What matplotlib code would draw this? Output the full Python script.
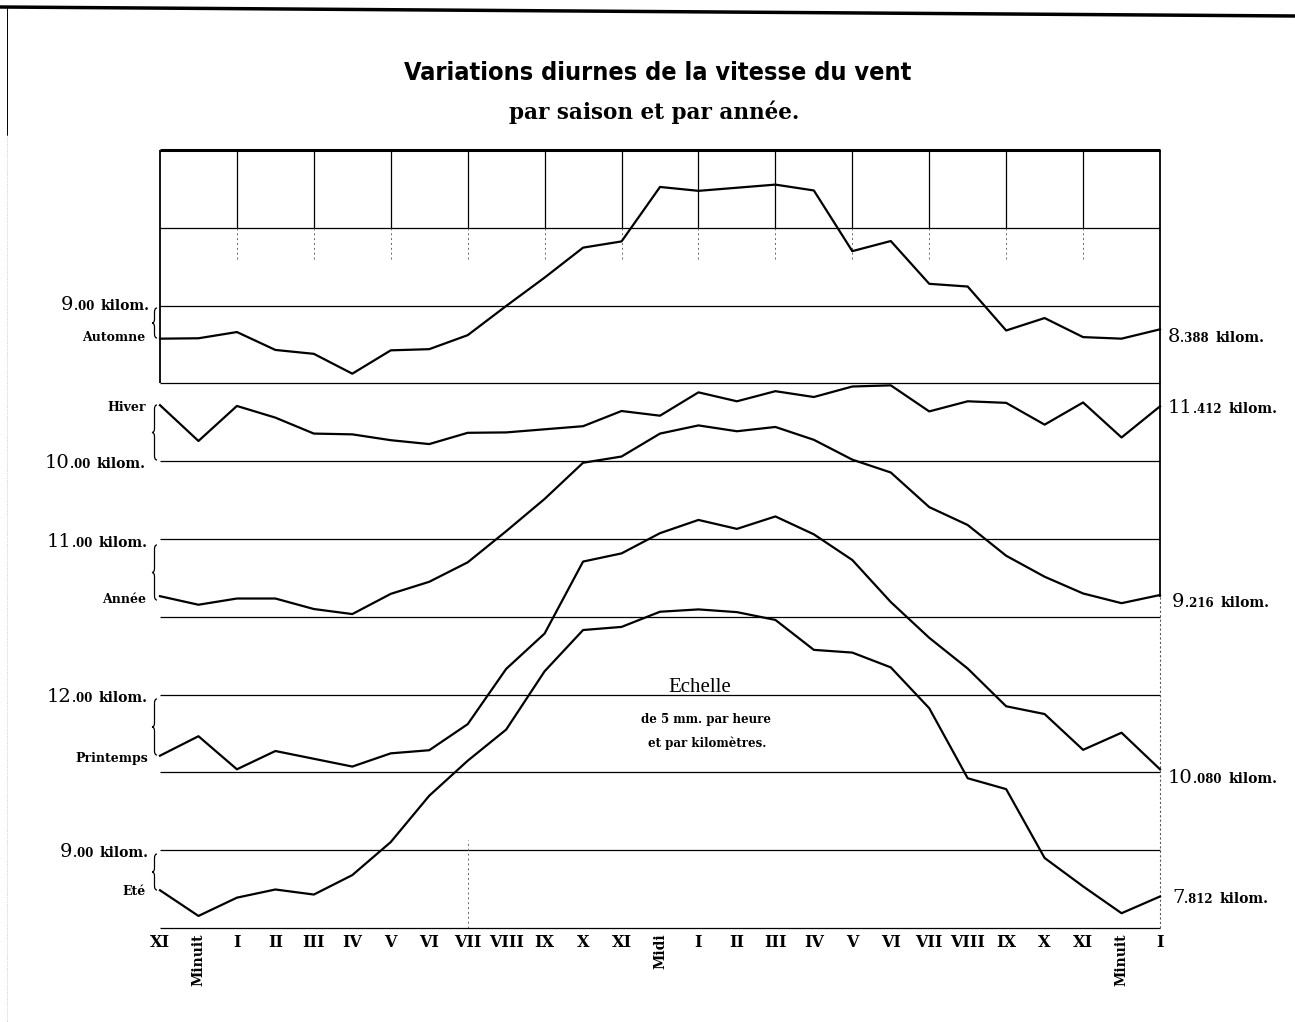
import numpy as np
import matplotlib
matplotlib.use('Agg')
import matplotlib.pyplot as plt
from matplotlib.path import Path
from matplotlib.patches import PathPatch

# hours from XI (previous evening) to I (next night)
hours = ['XI', 'Minuit', 'I', 'II', 'III', 'IV', 'V', 'VI', 'VII', 'VIII', 'IX', 'X', 'XI',
         'Midi', 'I', 'II', 'III', 'IV', 'V', 'VI', 'VII', 'VIII', 'IX', 'X', 'XI', 'Minuit', 'I']

# wind speed, km per hour
automne = [8.15, 8.16, 8.32, 7.86, 7.76, 7.25, 7.85, 7.88, 8.24, 8.99, 9.72, 10.49, 10.65,
           12.05, 11.95, 12.03, 12.11, 11.96, 10.40, 10.66, 9.56, 9.49, 8.36, 8.68, 8.19, 8.15, 8.39]
hiver = [11.44, 10.52, 11.42, 11.12, 10.71, 10.69, 10.54, 10.44, 10.73, 10.74, 10.82, 10.90, 11.29,
         11.17, 11.77, 11.54, 11.80, 11.65, 11.92, 11.95, 11.28, 11.54, 11.50, 10.94, 11.51, 10.61, 11.41]
annee = [9.53, 9.31, 9.47, 9.47, 9.20, 9.07, 9.59, 9.90, 10.40, 11.20, 12.03, 12.96, 13.12,
         13.71, 13.92, 13.77, 13.88, 13.55, 13.04, 12.71, 11.82, 11.36, 10.57, 10.03, 9.60, 9.35, 9.56]
printemps = [10.43, 10.93, 10.08, 10.55, 10.35, 10.15, 10.49, 10.57, 11.24, 12.66, 13.57, 15.42, 15.63,
             16.15, 16.49, 16.26, 16.58, 16.12, 15.46, 14.38, 13.46, 12.67, 11.70, 11.50, 10.58, 11.02, 10.08]
ete = [7.97, 7.31, 7.78, 7.99, 7.86, 8.36, 9.21, 10.40, 11.30, 12.10, 13.60, 14.66, 14.74,
       15.13, 15.19, 15.12, 14.92, 14.15, 14.08, 13.70, 12.65, 10.85, 10.57, 8.80, 8.07, 7.38, 7.81]

# each curve is shifted so its reference level sits on a grid line
series = [('Automne', automne, 9, 16), ('Hiver', hiver, 10, 12), ('Année', annee, 11, 10),
          ('Printemps', printemps, 12, 6), ('Eté', ete, 9, 2)]
end_labels = [('8', '.388'), ('11', '.412'), ('9', '.216'), ('10', '.080'), ('7', '.812')]

W, H = 1295, 1022
fig = plt.figure(figsize=(W / 100, H / 100), dpi=100)
deco = fig.add_axes([0, 0, 1, 1])
deco.set_xlim(0, W)
deco.set_ylim(H, 0)
deco.axis('off')

ax = fig.add_axes([160 / W, (H - 928) / H, 1000 / W, 778 / H])
ax.patch.set_alpha(0)
ax.set_xlim(0, 26)
ax.set_ylim(0, 20)
for s in ax.spines.values():
    s.set_visible(False)
ax.set_yticks([])

x = np.arange(len(hours))
for name, vals, ref, level in series:
    ax.plot(x, np.array(vals) - ref + level, color='black', lw=1.6, clip_on=False, zorder=3)

# grid
ax.hlines(np.arange(0, 20, 2), 0, 26, color='black', lw=0.9, clip_on=False)
ax.hlines(20, 0, 26, color='black', lw=2.2, clip_on=False)
ax.vlines(0, 14, 20, color='black', lw=1.3, clip_on=False)
ax.vlines(26, 8.5, 20, color='black', lw=1.3, clip_on=False)
ax.vlines(26, 0, 8.5, color='0.35', lw=0.8, linestyles=(0, (2, 2)), clip_on=False)
ax.vlines(np.arange(2, 25, 2), 18, 20, color='black', lw=0.9)
ax.vlines(np.arange(2, 25, 2), 17.2, 18, color='0.4', lw=0.7, linestyles=(0, (2, 3)))
ax.vlines(8, 0, 2.25, color='0.4', lw=0.7, linestyles=(0, (2, 3)))

ax.set_xticks(x)
ax.set_xticklabels(hours, family='DejaVu Serif', weight='bold', size=11.5)
ax.tick_params(axis='x', length=0, pad=4)
for lab in ax.get_xticklabels():
    if lab.get_text() in ('Minuit', 'Midi'):
        lab.set_rotation(90)
        lab.set_size(10)

# page border
deco.plot([0, W], [7, 16], color='black', lw=2.5)
deco.plot([7, 7], [7, 135], color='black', lw=0.7)
deco.plot([7, 7], [135, H], color='0.75', lw=0.6, ls=':')

renderer = fig.canvas.get_renderer()

title = fig.text(658 / W, 1 - 73 / H, 'Variations diurnes de la vitesse du vent', ha='center', va='center',
                 family='DejaVu Sans', stretch='condensed', weight='bold', size=22)
tw = title.get_window_extent(renderer=renderer).width
title.set_size(22 * 504 / tw)
fig.text(654 / W, 1 - 112 / H, 'par saison et par année.', ha='center', va='center',
         family='DejaVu Serif', weight='bold', size=15.5)

deco.text(700, 687, 'Echelle', ha='center', va='center', family='Liberation Serif', size=15)
deco.text(706, 720, 'de 5 mm. par heure', ha='center', va='center', family='DejaVu Serif', weight='bold', size=8.5)
deco.text(707, 743, 'et par kilomètres.', ha='center', va='center', family='DejaVu Serif', weight='bold', size=8.5)

BIG = dict(family='DejaVu Serif', size=14)
SMALL = dict(family='DejaVu Serif', weight='bold', size=8.5)
UNIT = dict(family='DejaVu Serif', weight='bold', size=10)
NAME = dict(family='DejaVu Serif', weight='bold', size=9)


def kil_label(xp, yp, big, small, align):
    parts = [(big, BIG, 0), (small, SMALL, 7), ('kilom.', UNIT, 0)]
    cur = xp
    if align == 'left':
        for s, st, gap in parts:
            t = deco.text(cur, yp, s, ha='left', va='baseline', **st)
            cur = t.get_window_extent(renderer=renderer).x1 + gap
    else:
        for s, st, gap in parts[::-1]:
            t = deco.text(cur - gap, yp, s, ha='right', va='baseline', **st)
            cur = t.get_window_extent(renderer=renderer).x0


def brace(xp, top, bot, w=5, r=4):
    mid = (top + bot) / 2
    verts = [(xp + w, top), (xp + w / 2, top), (xp + w / 2, top + r),
             (xp + w / 2, mid - r), (xp + w / 2, mid), (xp, mid),
             (xp + w / 2, mid), (xp + w / 2, mid + r),
             (xp + w / 2, bot - r), (xp + w / 2, bot), (xp + w, bot)]
    codes = [Path.MOVETO, Path.CURVE3, Path.CURVE3, Path.LINETO, Path.CURVE3, Path.CURVE3,
             Path.CURVE3, Path.CURVE3, Path.LINETO, Path.CURVE3, Path.CURVE3]
    deco.add_patch(PathPatch(Path(verts, codes), fill=False, lw=0.9, color='black'))


# left side: reference level and season name
left_ref = [(150, 310, 341, 145, (308, 338)), (146, 468, 411, 146, (405, 460)),
            (148, 547, 603, 146, (545, 600)), (148, 702, 762, 148, (699, 755)),
            (149, 857, 895, 146, (854, 890))]
for (name, vals, ref, level), (xr, yref, yname, xn, br) in zip(series, left_ref):
    kil_label(xr, yref, str(ref), '.00', 'right')
    deco.text(xn, yname, name, ha='right', va='baseline', **NAME)
    brace(152, br[0], br[1])

right_pos = [(1168, 342), (1168, 413), (1172, 607), (1168, 783), (1172, 903)]
for (big, small), (xr, yr) in zip(end_labels, right_pos):
    kil_label(xr, yr, big, small, 'left')

fig.savefig('out.png', dpi=100)
